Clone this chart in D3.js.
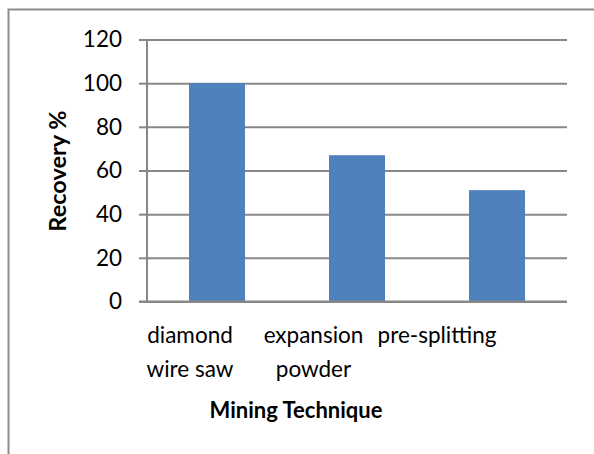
<!DOCTYPE html>
<html><head><meta charset="utf-8">
<script src="https://cdn.jsdelivr.net/npm/d3@7"></script>
<style>html,body{margin:0;padding:0;background:#fff;}svg{display:block;}</style>
</head><body>
<script>
const categories = ["diamond wire saw", "expansion powder", "pre-splitting"];
const labelLines = [["diamond", "wire saw"], ["expansion", "powder"], ["pre-splitting"]];
const values = [100, 67, 51];
const yTicks = [0, 20, 40, 60, 80, 100, 120];
const yTitle = "Recovery %";
const xTitle = "Mining Technique";

(function () {
const W = 594, H = 454;
const svg = d3.select("body").append("svg").attr("width", W).attr("height", H);
const font = "Lato, 'Open Sans', sans-serif";
const grid = "#878787";

// outer border (top and left visible)
svg.append("rect").attr("x", 8.5).attr("y", 9.5).attr("width", 620).attr("height", 480)
  .attr("fill", "none").attr("stroke", "#8c8c8c").attr("stroke-width", 2);

const pl = 147, pr = 567, pt = 39.5, pb = 301.5;
const x = d3.scaleBand().domain(categories).range([pl, pr]).paddingInner(0.6).paddingOuter(0.3);
const y = d3.scaleLinear().domain([0, 120]).range([pb, pt]);
const xLab = d3.scalePoint().domain(categories).range([190, 437]);

// gridlines + ticks
const yAxis = d3.axisLeft(y).tickValues(yTicks).tickSize(8).tickPadding(17);
const gy = svg.append("g").attr("transform", `translate(${pl},0)`).call(yAxis);
gy.select(".domain").remove();
gy.selectAll(".tick line").attr("stroke", grid).attr("stroke-width", 2);
gy.selectAll(".tick text").attr("font-family", font).attr("font-size", 22.5).attr("fill", "#000");
gy.selectAll(".tick").append("line").attr("x1", 0).attr("x2", pr - pl)
  .attr("stroke", grid).attr("stroke-width", 2);

// bars
svg.selectAll("rect.bar").data(values).join("rect").attr("class", "bar")
  .attr("x", (d, i) => x(categories[i]))
  .attr("width", x.bandwidth())
  .attr("y", d => y(d))
  .attr("height", d => y(0) - y(d))
  .attr("fill", "#4F81BD");

// axis lines
svg.append("line").attr("x1", pl).attr("x2", pl).attr("y1", pt).attr("y2", pb + 1)
  .attr("stroke", grid).attr("stroke-width", 2);
svg.append("line").attr("x1", pl - 8).attr("x2", pr).attr("y1", pb).attr("y2", pb)
  .attr("stroke", grid).attr("stroke-width", 2);

// category labels
categories.forEach((c, i) => {
  const t = svg.append("text").attr("text-anchor", "middle").attr("font-family", font)
    .attr("font-size", 22.5).attr("fill", "#000");
  labelLines[i].forEach((ln, j) => {
    t.append("tspan").attr("x", xLab(c)).attr("y", 343 + j * 33.5).text(ln);
  });
});

// titles
svg.append("text").attr("x", 296).attr("y", 418).attr("text-anchor", "middle")
  .attr("font-family", font).attr("font-weight", "bold").attr("font-size", 22).attr("fill", "#000")
  .text(xTitle);
svg.append("text").attr("transform", "translate(66,171) rotate(-90)").attr("text-anchor", "middle")
  .attr("font-family", font).attr("font-weight", "bold").attr("font-size", 23.5).attr("fill", "#000")
  .text(yTitle);
})();
</script>
</body></html>
